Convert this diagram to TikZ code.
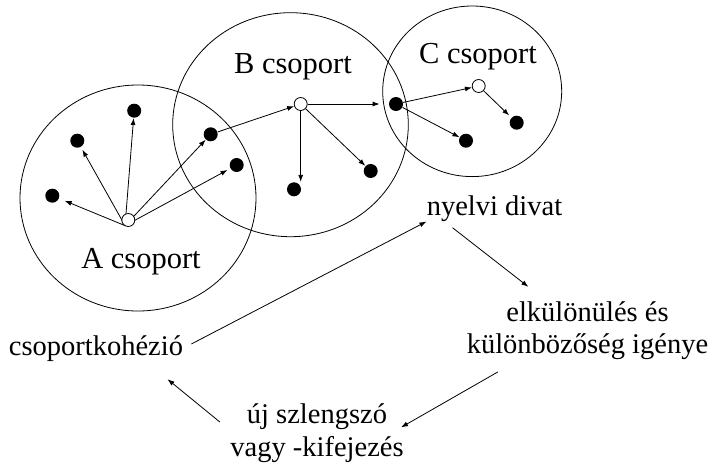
\documentclass[tikz,border=0pt]{standalone}
\usepackage{fontspec}
\setmainfont{Liberation Serif}
\usetikzlibrary{arrows.meta}
\tikzset{>={Latex[length=7pt,width=5pt]}}
\tikzset{
  member/.style={circle,fill=black,inner sep=0pt,minimum size=14pt},
  leader/.style={circle,draw,fill=white,inner sep=0pt,minimum size=13pt},
  grouplabel/.style={anchor=base,inner sep=0pt,font=\fontsize{30.5}{34}\selectfont},
  phase/.style={inner sep=0pt,align=center,font=\fontsize{28.5}{31.6}\selectfont},
}

\begin{document}
\begin{tikzpicture}[x=1pt,y=-1pt,line width=0.8pt]
  \useasboundingbox (0,0) rectangle (716,464);
  \draw (138,198) ellipse [x radius=118pt, y radius=113pt];
  \draw (290.5,124.7) ellipse [x radius=117.8pt, y radius=112pt];
  \draw (472.2,91.3) ellipse [x radius=89.5pt, y radius=85.3pt];
  \node[grouplabel] (labA) at (141,268) {A csoport};
  \node[grouplabel] (labB) at (293,73.3) {B csoport};
  \node[grouplabel] (labC) at (478,63.3) {C csoport};

  \node[member] (a1) at (52.3,195.7) {};
  \node[member] (a2) at (77.3,140.7) {};
  \node[member] (a3) at (134.2,110.7) {};
  \node[member] (a4) at (210.7,134.3) {};
  \node[member] (a5) at (236.7,165) {};
  \node[member] (b1) at (294,189.3) {};
  \node[member] (b2) at (370.7,171) {};
  \node[member] (c0) at (396,104) {};
  \node[member] (c1) at (516.7,122.7) {};
  \node[member] (c2) at (466,140.7) {};

  \draw[->,shorten >=6pt] (128.3,220) ++(60:-6.5pt) coordinate (fromA) -- (a1);
  \draw[->,shorten >=3pt] (fromA) -- (a2);
  \draw[->] (fromA) -- (a3);
  \draw[->] (fromA) -- (a4);
  \draw[->,shorten >=3pt] (fromA) -- (a5);
  \node[leader] (oA) at (128.3,220) {};
  \node[leader] (oB) at (300.7,104) {};
  \node[leader] (oC) at (478.7,86) {};
  \draw[->] (a4) -- (oB);
  \draw[->] (oB.south) -- (oB.south |- b1.north);
  \draw[->] (oB) -- (b2);
  \draw[->,shorten >=9pt] (oB) -- (c0);
  \draw[->] (c0) -- (oC);
  \draw[->] (c0) -- (c2);
  \draw[->,shorten >=3pt] (oC) -- (c1);

  \node[phase,anchor=base] (divat) at (494.5,215) {nyelvi divat};
  \node[phase,anchor=base] (kohezio) at (96,355) {csoportkohézió};
  \node[phase] (igeny) at (587.5,330.8) {elkülönülés és\\különbözőség igénye};
  \node[phase,font=\fontsize{28.5}{33.4}\selectfont] (szleng) at (317,433.3) {új szlengszó\\vagy -kifejezés};
  \draw[->,shorten <=9pt] (kohezio.east) -- (divat.south west);
  \draw[->,shorten <=10pt,shorten >=24pt] (divat.195) -- (igeny.144);
  \draw[->,shorten <=24pt,shorten >=-3.5pt] (igeny.203) -- (szleng.5);
  \draw[->,shorten <=13pt,shorten >=28pt] (szleng.178) -- (kohezio.345);
\end{tikzpicture}
\end{document}
